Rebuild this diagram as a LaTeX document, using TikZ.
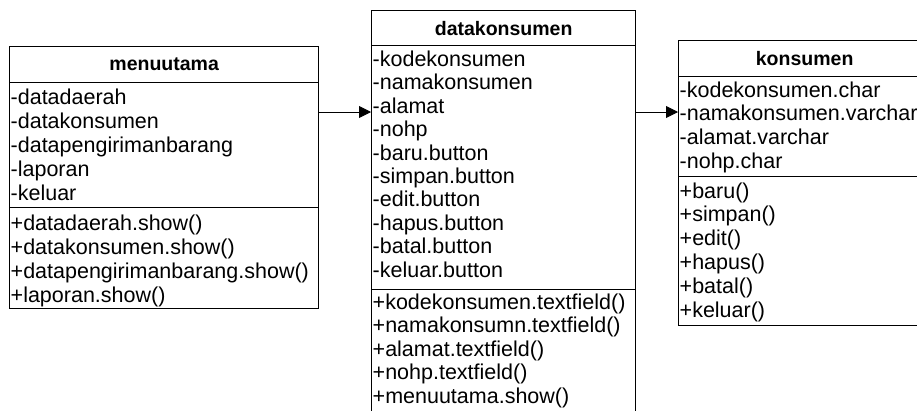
\documentclass[tikz,border=0pt]{standalone}
\usepackage{fontspec}
\setmainfont{Liberation Sans}
\usetikzlibrary{arrows.meta}
\begin{document}
\begin{tikzpicture}[x=1pt,y=-1pt,
  comp/.style={draw, line width=1.3pt, inner sep=0pt, anchor=north west},
  title/.style={font=\fontsize{19.5}{22}\selectfont\bfseries},
  txt/.style={anchor=base west, inner sep=0pt, font=\fontsize{21.5}{24}\selectfont},
  arr/.style={line width=0.9pt, -{Triangle[length=12pt,width=12pt]}}]
\useasboundingbox (0,0) rectangle (917,410);
\clip (0,0) rectangle (917,410);
% menuutama
\node[comp, title, minimum width=309pt, minimum height=36pt] (mH) at (9,46) {menuutama};
\node[comp, minimum width=309pt, minimum height=125pt] (mA) at (9,82) {};
\node[comp, minimum width=309pt, minimum height=101pt] (mM) at (9,207) {};
\foreach \t [count=\i] in {-datadaerah,-datakonsumen,-datapengirimanbarang,-laporan,-keluar}
  \node[txt] (ma\i) at (10.5,{104+24*(\i-1)}) {\t};
\foreach \t [count=\i] in {+datadaerah.show(),+datakonsumen.show(),+datapengirimanbarang.show(),+laporan.show()}
  \node[txt] (mm\i) at (10.5,{230+24*(\i-1)}) {\t};
% datakonsumen
\node[comp, title, minimum width=264pt, minimum height=35pt] (dH) at (371,10) {datakonsumen};
\node[comp, minimum width=264pt, minimum height=244pt] (dA) at (371,45) {};
\node[comp, minimum width=264pt, minimum height=150pt] (dM) at (371,289) {};
\foreach \t [count=\i] in {-kodekonsumen,-namakonsumen,-alamat,-nohp,-baru.button,-simpan.button,-edit.button,-hapus.button,-batal.button,-keluar.button}
  \node[txt] (da\i) at (372.5,{66.5+23.4*(\i-1)}) {\t};
\foreach \t [count=\i] in {+kodekonsumen.textfield(),+namakonsumn.textfield(),+alamat.textfield(),+nohp.textfield(),+menuutama.show()}
  \node[txt] (dm\i) at (372.5,{309+23.6*(\i-1)}) {\t};
% konsumen
\node[comp, title, minimum width=252pt, minimum height=36pt] (kH) at (678,40) {konsumen};
\node[comp, minimum width=252pt, minimum height=100pt] (kA) at (678,76) {};
\node[comp, minimum width=252pt, minimum height=149pt] (kM) at (678,176) {};
\foreach \t [count=\i] in {-kodekonsumen.char,-namakonsumen.varchar,-alamat.varchar,-nohp.char}
  \node[txt] (ka\i) at (679.5,{97+23.7*(\i-1)}) {\t};
\foreach \t [count=\i] in {+baru(),+simpan(),+edit(),+hapus(),+batal(),+keluar()}
  \node[txt] (km\i) at (679.5,{198+23.8*(\i-1)}) {\t};
% connectors
\coordinate (ay) at (0,112);
\draw[arr] (mA.east |- ay) -- (dA.west |- ay);
\draw[arr] (dA.east |- ay) -- (kA.west |- ay);
\end{tikzpicture}
\end{document}
